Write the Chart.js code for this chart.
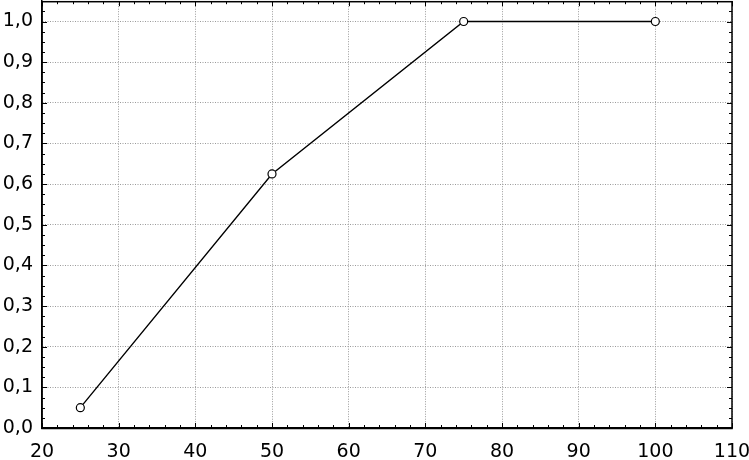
<!DOCTYPE html>
<html>
<head>
<meta charset="utf-8">
<script src="https://cdn.jsdelivr.net/npm/chart.js@4/dist/chart.umd.min.js"></script>
<style>
  html, body { margin: 0; padding: 0; background: #fff; overflow: hidden; }
  /* el lienzo sube 4px para que el marco toque el borde superior */
  canvas { display: block; margin-top: -4px; }
</style>
</head>
<body>
<canvas id="grafica" width="749" height="464"></canvas>
<script>
// ==== Datos ====
const xValores = [25, 50, 75, 100];
const yValores = [0.05, 0.625, 1.0, 1.0];
const xTicks = [20, 30, 40, 50, 60, 70, 80, 90, 100, 110];
const yTicks = [0.0, 0.1, 0.2, 0.3, 0.4, 0.5, 0.6, 0.7, 0.8, 0.9, 1.0];

// ==== Marco y marcas menores (hacia dentro, en los 4 lados) ====
const marcoPlugin = {
  id: 'marco',
  afterDraw(chart) {
    const { ctx, chartArea: a, scales: { x, y } } = chart;
    ctx.save();
    ctx.strokeStyle = '#000';
    ctx.lineWidth = 1;
    ctx.beginPath();
    // eje x: mayor cada 10, menor cada 2
    for (let v = 20; v <= 110; v += 2) {
      const px = Math.round(x.getPixelForValue(v)) + 0.5;
      const len = (v % 10 === 0) ? 5 : 3;
      ctx.moveTo(px, a.bottom); ctx.lineTo(px, a.bottom - len);
      ctx.moveTo(px, a.top); ctx.lineTo(px, a.top + len);
    }
    // eje y: mayor cada 0,1, menor cada 0,025
    for (let i = 0; i <= 42; i++) {
      const py = Math.round(y.getPixelForValue(i * 0.025)) + 0.5;
      const len = (i % 4 === 0) ? 5 : 3;
      ctx.moveTo(a.left, py); ctx.lineTo(a.left + len, py);
      ctx.moveTo(a.right, py); ctx.lineTo(a.right - len, py);
    }
    ctx.stroke();
    ctx.lineWidth = 1.5;
    ctx.strokeRect(a.left, a.top + 0.5, a.right - a.left, a.bottom - a.top);
    ctx.restore();
  }
};

const fuente = { family: '"DejaVu Sans", sans-serif', size: 19 };
const fmt = v => Number(v).toFixed(1).replace('.', ',');

new Chart(document.getElementById('grafica'), {
  type: 'line',
  data: {
    datasets: [{
      data: xValores.map((v, i) => ({ x: v, y: yValores[i] })),
      borderColor: '#000',
      borderWidth: 1.4,
      pointRadius: 4,
      pointBorderWidth: 1.2,
      pointBorderColor: '#000',
      pointBackgroundColor: '#fff',
      tension: 0,
      fill: false
    }]
  },
  options: {
    responsive: false,
    animation: false,
    layout: { padding: { top: 0, right: 17, left: 0, bottom: 0 } },
    plugins: { legend: { display: false }, tooltip: { enabled: false } },
    scales: {
      x: {
        type: 'linear',
        min: 20, max: 110,
        afterBuildTicks: s => { s.ticks = xTicks.map(v => ({ value: v })); },
        afterFit: s => { s.height = 32; s.paddingLeft = 0; s.paddingRight = 0; },
        ticks: { color: '#000', font: fuente, padding: 13, maxRotation: 0, autoSkip: false,
                 callback: v => String(v) },
        grid: { color: '#9a9a9a', lineWidth: 1, drawTicks: false },
        border: { color: '#000', width: 1.5, dash: [1, 1.5] }
      },
      y: {
        type: 'linear',
        min: 0, max: 1.05,
        afterBuildTicks: s => { s.ticks = yTicks.map(v => ({ value: v })); },
        afterFit: s => { s.width = 42; s.paddingTop = 0; s.paddingBottom = 0; },
        ticks: { color: '#000', font: fuente, padding: 9, autoSkip: false, callback: fmt },
        grid: { color: '#9a9a9a', lineWidth: 1, drawTicks: false },
        border: { color: '#000', width: 1.5, dash: [1, 1.5] }
      }
    }
  },
  plugins: [marcoPlugin]
});
</script>
</body>
</html>
